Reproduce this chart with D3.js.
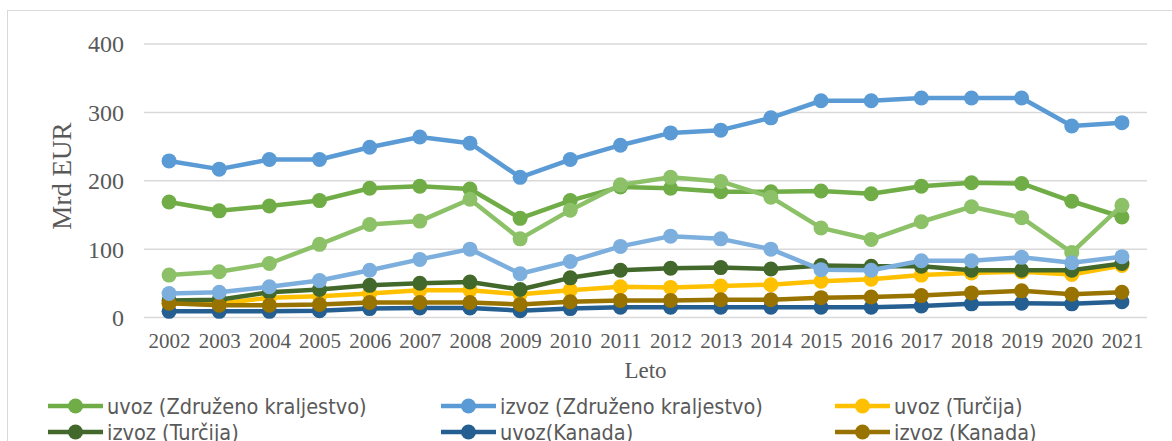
<!DOCTYPE html>
<html lang="sl">
<head>
<meta charset="utf-8">
<title>Uvoz in izvoz</title>
<script src="https://cdn.jsdelivr.net/npm/d3@7"></script>
<style>
  body { margin: 0; background: #fff; }
  svg { display: block; }
</style>
</head>
<body>
<div id="chart"></div>
<script>
// leta
var years = ['2002','2003','2004','2005','2006','2007','2008','2009','2010','2011',
             '2012','2013','2014','2015','2016','2017','2018','2019','2020','2021'];

// vrednosti v mrd EUR, odcitane iz slike
var uvozZK      = [169, 156, 163, 171, 189, 192, 188, 145, 171, 191, 189, 184, 184, 185, 181, 192, 197, 196, 170, 147];
var izvozZK     = [229, 217, 231, 231, 249, 264, 255, 205, 231, 252, 270, 274, 292, 317, 317, 321, 321, 321, 280, 285];
var uvozTur     = [20, 20, 29, 31, 35, 40, 40, 34, 40, 45, 44, 46, 48, 53, 56, 62, 65, 67, 63, 76];
var izvozTur    = [25, 26, 37, 41, 47, 50, 52, 41, 58, 69, 72, 73, 71, 76, 75, 75, 69, 69, 69, 79];
var uvozKan     = [9, 9, 9, 10, 13, 14, 14, 10, 13, 15, 15, 15, 15, 15, 15, 17, 20, 21, 20, 23];
var izvozKan    = [21, 18, 18, 19, 22, 22, 22, 19, 23, 25, 25, 26, 26, 29, 30, 32, 36, 39, 34, 37];
var uvozZK2     = [62, 67, 79, 107, 136, 141, 173, 115, 157, 194, 205, 199, 176, 131, 114, 140, 162, 146, 95, 164];
var izvozZK2    = [35, 37, 45, 54, 69, 85, 100, 64, 82, 104, 119, 115, 100, 70, 69, 83, 83, 88, 80, 89];

var yTicks = [0, 100, 200, 300, 400];

var series = [
  { name: 'uvoz (Združeno kraljestvo)',  values: uvozZK,   color: '#70AD47', legend: true },
  { name: 'izvoz (Združeno kraljestvo)', values: izvozZK,  color: '#5B9BD5', legend: true },
  { name: 'uvoz (Turčija)',              values: uvozTur,  color: '#FFC000', legend: true },
  { name: 'izvoz (Turčija)',             values: izvozTur, color: '#43682B', legend: true },
  { name: 'uvoz(Kanada)',                values: uvozKan,  color: '#255E91', legend: true },
  { name: 'izvoz (Kanada)',              values: izvozKan, color: '#997300', legend: true },
  { name: 'uvoz 2',                      values: uvozZK2,  color: '#8CC168', legend: false },
  { name: 'izvoz 2',                     values: izvozZK2, color: '#7CAFDD', legend: false }
];

var width = 1172, height = 441;
var plot = { left: 144, right: 1147, top: 44, bottom: 317.5 };

var svg = d3.select('#chart').append('svg')
  .attr('width', width).attr('height', height);

// okvir grafikona
svg.append('rect')
  .attr('x', 7.5).attr('y', 10.5)
  .attr('width', 1200).attr('height', 500)
  .attr('fill', 'none').attr('stroke', '#d9d9d9').attr('stroke-width', 1);

var x = d3.scalePoint().domain(years).range([plot.left, plot.right]).padding(0.5);
var y = d3.scaleLinear().domain([0, 400]).range([plot.bottom, plot.top]);

// mreza
svg.append('g').selectAll('line').data(yTicks).enter().append('line')
  .attr('x1', plot.left).attr('x2', plot.right)
  .attr('y1', function(d) { return y(d); }).attr('y2', function(d) { return y(d); })
  .attr('stroke', '#d9d9d9').attr('stroke-width', 1.5);

var serif = "'Liberation Serif', 'Times New Roman', serif";

// y os
var yAxis = svg.append('g')
  .attr('transform', 'translate(' + (plot.left - 20) + ',0)')
  .call(d3.axisLeft(y).tickValues(yTicks).tickSize(0).tickPadding(0));
yAxis.select('.domain').remove();
yAxis.selectAll('text')
  .attr('fill', '#595959').style('font-family', serif).style('font-size', '24px')
  .attr('dy', '0.33em');

// x os
var xAxis = svg.append('g')
  .attr('transform', 'translate(0,' + plot.bottom + ')')
  .call(d3.axisBottom(x).tickSize(0).tickPadding(16));
xAxis.select('.domain').remove();
xAxis.selectAll('text')
  .attr('fill', '#595959').style('font-family', serif).style('font-size', '21px');

// naslovi osi
svg.append('text')
  .attr('transform', 'translate(71,176) rotate(-90)')
  .attr('text-anchor', 'middle')
  .attr('fill', '#595959').style('font-family', serif).style('font-size', '27px')
  .text('Mrd EUR');

svg.append('text')
  .attr('x', (plot.left + plot.right) / 2).attr('y', 378)
  .attr('text-anchor', 'middle')
  .attr('fill', '#595959').style('font-family', serif).style('font-size', '23px')
  .text('Leto');

// crte
var line = d3.line()
  .x(function(d, i) { return x(years[i]); })
  .y(function(d) { return y(d); });

series.forEach(function(s) {
  var g = svg.append('g');
  g.append('path')
    .attr('d', line(s.values))
    .attr('fill', 'none')
    .attr('stroke', s.color)
    .attr('stroke-width', 4.5)
    .attr('stroke-linejoin', 'round');
  g.selectAll('circle').data(s.values).enter().append('circle')
    .attr('cx', function(d, i) { return x(years[i]); })
    .attr('cy', function(d) { return y(d); })
    .attr('r', 7.5)
    .attr('fill', s.color);
});

// legenda
var legendItems = series.filter(function(s) { return s.legend; });
var colX = [48, 441, 835];
var rowY = [406, 432];

var leg = svg.append('g').selectAll('g').data(legendItems).enter().append('g')
  .attr('transform', function(d, i) {
    return 'translate(' + colX[i % 3] + ',' + rowY[Math.floor(i / 3)] + ')';
  });
leg.append('line')
  .attr('x1', 0).attr('x2', 55).attr('y1', 0).attr('y2', 0)
  .attr('stroke', function(d) { return d.color; }).attr('stroke-width', 4.5);
leg.append('circle')
  .attr('cx', 27.5).attr('cy', 0).attr('r', 7.5)
  .attr('fill', function(d) { return d.color; });
leg.append('text')
  .attr('x', 59).attr('y', 0).attr('dy', '0.35em')
  .attr('fill', '#595959')
  .style('font-family', "'Liberation Sans Narrow', 'DejaVu Sans Condensed', sans-serif")
  .style('font-size', '21.5px')
  .text(function(d) { return d.name; });
</script>
</body>
</html>
